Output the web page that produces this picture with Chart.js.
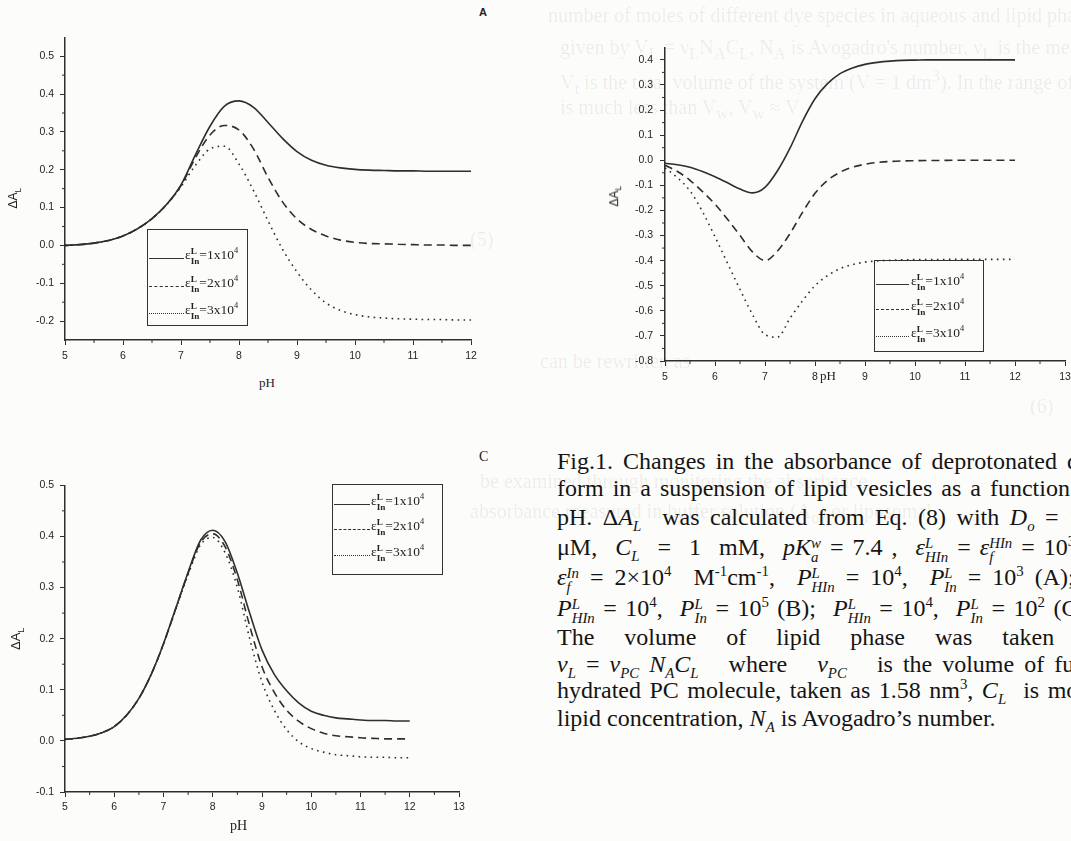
<!DOCTYPE html>
<html><head><meta charset="utf-8">
<script src="https://cdn.jsdelivr.net/npm/chart.js@4.4.1/dist/chart.umd.min.js"></script>
<style>
html,body{margin:0;padding:0;width:1071px;height:841px;overflow:hidden;background:#fcfcfa;position:relative;}
canvas{position:absolute;}
.t{position:absolute;white-space:nowrap;color:#222;}
.ghost{position:absolute;white-space:nowrap;font-family:'Liberation Serif',serif;font-size:20px;color:rgba(0,0,0,0.07);}
.cap{position:absolute;left:557px;white-space:nowrap;font-family:'Liberation Serif',serif;font-size:24px;line-height:24px;color:#141414;}
.ss{display:inline-block;vertical-align:-0.5em;font-size:0.62em;line-height:1.0;text-align:left;}
.ss span{display:block;}
.cap sub,.cap sup{font-size:0.62em;line-height:0;}
.ylab{position:absolute;font-family:'Liberation Sans',Arial,sans-serif;color:#222;transform:rotate(-90deg);transform-origin:center;white-space:nowrap;}
.ylab sub{font-size:0.7em;}
.xlab{position:absolute;font-family:'Liberation Serif',serif;color:#222;white-space:nowrap;}
.leg{position:absolute;border:1.3px solid #333;box-sizing:border-box;}
.smp{position:absolute;left:1px;height:0;}
.ltx{position:absolute;font-family:'Liberation Serif',serif;font-size:13.5px;color:#222;white-space:nowrap;}
.ltx .ss{font-size:0.68em;vertical-align:-0.6em;line-height:1.05;font-weight:bold;}
.ltx sup{font-size:0.62em;}
</style>
</head><body>

<!-- faint show-through text of the scanned page -->
<div class="ghost" style="left:548px;top:4px">number of moles of different dye species in aqueous and lipid phases, V<sub>w</sub>, V<sub>L</sub> are the volumes of</div>
<div class="ghost" style="left:560px;top:36px">given by V<sub>L</sub> = ν<sub>L</sub>N<sub>A</sub>C<sub>L</sub>, N<sub>A</sub> is Avogadro's number, ν<sub>L</sub> is the mean volume of</div>
<div class="ghost" style="left:560px;top:66px">V<sub>t</sub> is the total volume of the system (V = 1 dm<sup>3</sup>). In the range of lipid concentrations commonly</div>
<div class="ghost" style="left:560px;top:96px">is much less than V<sub>w</sub>, V<sub>w</sub> ≈ V</div>
<div class="ghost" style="left:470px;top:228px">(5)</div>
<div class="ghost" style="left:540px;top:350px">can be rewritten as</div>
<div class="ghost" style="left:1030px;top:395px">(6)</div>
<div class="ghost" style="left:480px;top:470px">be examined through monitoring the absorbance</div>
<div class="ghost" style="left:470px;top:500px">absorbance measured in buffer solution (A<sub>o</sub>) or liposomal</div>

<canvas id="cA"></canvas>
<canvas id="cB"></canvas>
<canvas id="cC"></canvas>

<div class="t" style="left:479px;top:6px;font-family:'Liberation Sans',Arial,sans-serif;font-weight:bold;font-size:11px;">A</div>
<div class="t" style="left:479px;top:449px;font-family:'Liberation Serif',serif;font-size:14px;">C</div>

<div class="ylab" style="left:4px;top:190px;font-size:12px;">ΔA<sub>L</sub></div>
<div class="ylab" style="left:605px;top:188px;font-size:12px;">ΔA<sub>L</sub></div>
<div class="ylab" style="left:6px;top:630px;font-size:13px;">ΔA<sub>L</sub></div>

<div class="xlab" style="left:259px;top:375px;font-size:13px;">pH</div>
<div class="xlab" style="left:820px;top:368px;font-size:13px;">pH</div>
<div class="xlab" style="left:230px;top:818px;font-size:14px;">pH</div>

<!-- legends -->
<div class="leg" style="left:147px;top:229px;width:101px;height:97px;">
  <div class="smp" style="top:28px;width:35px;border-top:1.6px solid #333;"></div>
  <div class="ltx" style="left:37px;top:16px;">ε<span class="ss"><span>L</span><span>In</span></span>=1x10<sup>4</sup></div>
  <div class="smp" style="top:56px;width:35px;border-top:1.6px dashed #333;"></div>
  <div class="ltx" style="left:37px;top:44px;">ε<span class="ss"><span>L</span><span>In</span></span>=2x10<sup>4</sup></div>
  <div class="smp" style="top:83px;width:35px;border-top:1.6px dotted #333;"></div>
  <div class="ltx" style="left:37px;top:71px;">ε<span class="ss"><span>L</span><span>In</span></span>=3x10<sup>4</sup></div>
</div>
<div class="leg" style="left:874px;top:260px;width:110px;height:92px;">
  <div class="smp" style="top:23px;width:33px;border-top:1.6px solid #333;"></div>
  <div class="ltx" style="left:36px;top:11px;">ε<span class="ss"><span>L</span><span>In</span></span>=1x10<sup>4</sup></div>
  <div class="smp" style="top:48px;width:33px;border-top:1.6px dashed #333;"></div>
  <div class="ltx" style="left:36px;top:36px;">ε<span class="ss"><span>L</span><span>In</span></span>=2x10<sup>4</sup></div>
  <div class="smp" style="top:75px;width:33px;border-top:1.6px dotted #333;"></div>
  <div class="ltx" style="left:36px;top:63px;">ε<span class="ss"><span>L</span><span>In</span></span>=3x10<sup>4</sup></div>
</div>
<div class="leg" style="left:332px;top:484px;width:111px;height:91px;">
  <div class="smp" style="top:19px;width:36px;border-top:1.6px solid #333;"></div>
  <div class="ltx" style="left:38px;top:7px;">ε<span class="ss"><span>L</span><span>In</span></span>=1x10<sup>4</sup></div>
  <div class="smp" style="top:44px;width:36px;border-top:1.6px dashed #333;"></div>
  <div class="ltx" style="left:38px;top:32px;">ε<span class="ss"><span>L</span><span>In</span></span>=2x10<sup>4</sup></div>
  <div class="smp" style="top:70px;width:36px;border-top:1.6px dotted #333;"></div>
  <div class="ltx" style="left:38px;top:58px;">ε<span class="ss"><span>L</span><span>In</span></span>=3x10<sup>4</sup></div>
</div>

<!-- caption -->
<div class="cap" style="top:449px;word-spacing:4px;">Fig.1. Changes in the absorbance of deprotonated dye</div>
<div class="cap" style="top:476px;word-spacing:3px;">form in a suspension of lipid vesicles as a function of</div>
<div class="cap" style="top:505px;word-spacing:4.5px;">pH. Δ<i>A</i><sub><i>L</i></sub>&nbsp; was calculated from Eq. (8) with <i>D<sub>o</sub></i> = 10</div>
<div class="cap" style="top:535px;word-spacing:3px;">μM,&nbsp; <i>C<sub>L</sub></i> &nbsp;= &nbsp;1 &nbsp;mM,&nbsp; <i>pK</i><span class="ss"><span><i>w</i></span><span><i>a</i></span></span> = 7.4 ,&nbsp; <i>ε</i><span class="ss"><span><i>L</i></span><span><i>HIn</i></span></span> = <i>ε</i><span class="ss"><span><i>HIn</i></span><span><i>f</i></span></span> = 10<sup>3</sup></div>
<div class="cap" style="top:565px;word-spacing:5px;"><i>ε</i><span class="ss"><span><i>In</i></span><span><i>f</i></span></span> = 2×10<sup>4</sup>&nbsp; M<sup>-1</sup>cm<sup>-1</sup>,&nbsp; <i>P</i><span class="ss"><span><i>L</i></span><span><i>HIn</i></span></span> = 10<sup>4</sup>,&nbsp; <i>P</i><span class="ss"><span><i>L</i></span><span><i>In</i></span></span> = 10<sup>3</sup> (A);</div>
<div class="cap" style="top:596px;word-spacing:2.5px;"><i>P</i><span class="ss"><span><i>L</i></span><span><i>HIn</i></span></span> = 10<sup>4</sup>,&nbsp; <i>P</i><span class="ss"><span><i>L</i></span><span><i>In</i></span></span> = 10<sup>5</sup> (B);&nbsp; <i>P</i><span class="ss"><span><i>L</i></span><span><i>HIn</i></span></span> = 10<sup>4</sup>,&nbsp; <i>P</i><span class="ss"><span><i>L</i></span><span><i>In</i></span></span> = 10<sup>2</sup> (C).</div>
<div class="cap" style="top:625px;word-spacing:24px;">The volume of lipid phase was taken as</div>
<div class="cap" style="top:652px;word-spacing:4px;"><i>ν<sub>L</sub></i>&nbsp;=&nbsp;<i>ν<sub>PC</sub>&nbsp;N<sub>A</sub>C<sub>L</sub></i>&nbsp;&nbsp; where&nbsp;&nbsp; <i>ν<sub>PC</sub></i>&nbsp;&nbsp; is the volume of fully</div>
<div class="cap" style="top:678px;word-spacing:2.5px;">hydrated PC molecule, taken as 1.58 nm<sup>3</sup>, <i>C<sub>L</sub></i>&nbsp; is molar</div>
<div class="cap" style="top:706px;">lipid concentration, <i>N<sub>A</sub></i> is Avogadro’s number.</div>

<script>
// ---------- data ----------
const pH = [5,5.25,5.5,5.75,6,6.25,6.5,6.75,7,7.25,7.5,7.75,8,8.25,8.5,8.75,9,9.25,9.5,9.75,10,10.25,10.5,10.75,11,11.25,11.5,11.75,12];
const seriesLabels = ['ε(L,In)=1x10^4','ε(L,In)=2x10^4','ε(L,In)=3x10^4'];

// Panel A
const A_eps1 = [0.000,0.002,0.006,0.013,0.025,0.044,0.071,0.108,0.160,0.240,0.315,0.368,0.382,0.365,0.325,0.283,0.248,0.225,0.212,0.205,0.201,0.199,0.198,0.197,0.197,0.196,0.196,0.196,0.196];
const A_eps2 = [0.000,0.002,0.006,0.013,0.025,0.044,0.071,0.108,0.158,0.232,0.292,0.317,0.305,0.255,0.180,0.115,0.070,0.042,0.025,0.014,0.008,0.005,0.004,0.003,0.002,0.001,0.001,0.000,0.000];
const A_eps3 = [0.000,0.002,0.006,0.013,0.025,0.044,0.071,0.107,0.155,0.212,0.255,0.262,0.215,0.145,0.065,-0.010,-0.070,-0.118,-0.152,-0.172,-0.183,-0.189,-0.192,-0.194,-0.195,-0.196,-0.196,-0.197,-0.197];
const A_xTicks = [5,6,7,8,9,10,11,12];
const A_yTicks = [-0.2,-0.1,0.0,0.1,0.2,0.3,0.4,0.5];

// Panel B
const B_eps1 = [-0.012,-0.018,-0.028,-0.045,-0.066,-0.090,-0.115,-0.130,-0.108,-0.042,0.048,0.155,0.245,0.305,0.345,0.368,0.382,0.390,0.395,0.398,0.399,0.400,0.400,0.400,0.400,0.400,0.400,0.400,0.400];
const B_eps2 = [-0.020,-0.045,-0.080,-0.125,-0.175,-0.235,-0.300,-0.365,-0.400,-0.362,-0.292,-0.208,-0.132,-0.080,-0.048,-0.028,-0.016,-0.009,-0.005,-0.003,-0.002,-0.001,-0.001,0.000,0.000,0.000,0.000,0.000,0.000];
const B_eps3 = [-0.030,-0.070,-0.122,-0.205,-0.305,-0.410,-0.515,-0.615,-0.695,-0.705,-0.630,-0.560,-0.500,-0.460,-0.432,-0.416,-0.406,-0.401,-0.399,-0.397,-0.396,-0.396,-0.396,-0.395,-0.395,-0.395,-0.395,-0.395,-0.395];
const B_xTicks = [5,6,7,8,9,10,11,12,13];
const B_yTicks = [-0.8,-0.7,-0.6,-0.5,-0.4,-0.3,-0.2,-0.1,0.0,0.1,0.2,0.3,0.4];

// Panel C
const C_eps1 = [0.003,0.005,0.009,0.016,0.028,0.050,0.083,0.130,0.190,0.260,0.330,0.392,0.412,0.390,0.328,0.250,0.178,0.130,0.098,0.074,0.058,0.050,0.045,0.043,0.041,0.040,0.040,0.039,0.039];
const C_eps2 = [0.003,0.005,0.009,0.016,0.028,0.050,0.083,0.130,0.190,0.259,0.328,0.388,0.405,0.380,0.315,0.225,0.145,0.095,0.060,0.038,0.024,0.015,0.010,0.008,0.006,0.005,0.004,0.004,0.004];
const C_eps3 = [0.003,0.005,0.009,0.016,0.028,0.050,0.083,0.130,0.189,0.257,0.325,0.383,0.398,0.368,0.300,0.200,0.115,0.060,0.022,-0.002,-0.015,-0.022,-0.027,-0.029,-0.031,-0.032,-0.032,-0.033,-0.033];
const C_xTicks = [5,6,7,8,9,10,11,12,13];
const C_yTicks = [-0.1,0.0,0.1,0.2,0.3,0.4,0.5];

// minor tick positions
const minorX = [5.5,6.5,7.5,8.5,9.5,10.5,11.5,12.5];
const minorY = [-0.75,-0.65,-0.55,-0.45,-0.35,-0.25,-0.15,-0.05,0.05,0.15,0.25,0.35,0.45];

// ---------- drawing ----------
const INK = '#2e2e2e';
const minorPlugin = {
  id: 'minorTicks',
  afterDraw(chart) {
    const ctx = chart.ctx, xs = chart.scales.x, ys = chart.scales.y;
    ctx.save();
    ctx.strokeStyle = INK; ctx.lineWidth = 1;
    ctx.beginPath();
    minorX.forEach(v => { if (v > xs.min && v < xs.max) { const p = xs.getPixelForValue(v); ctx.moveTo(p, ys.bottom); ctx.lineTo(p, ys.bottom + 3); } });
    minorY.forEach(v => { if (v > ys.min && v < ys.max) { const p = ys.getPixelForValue(v); ctx.moveTo(xs.left, p); ctx.lineTo(xs.left - 3, p); } });
    ctx.stroke();
    ctx.restore();
  }
};

const dashes = [[], [8, 5], [1.6, 4.4]];

function build(id, o) {
  const cv = document.getElementById(id);
  const W = o.yw + (o.right - o.left) + o.pr;
  const H = o.pt + (o.bottom - o.top) + o.xh;
  cv.width = W; cv.height = H;
  cv.style.width = W + 'px'; cv.style.height = H + 'px';
  cv.style.left = (o.left - o.yw) + 'px';
  cv.style.top = (o.top - o.pt) + 'px';
  const font = { family: "'Liberation Sans', Arial, sans-serif", size: o.fs };
  new Chart(cv.getContext('2d'), {
    type: 'line',
    data: {
      datasets: o.series.map((s, k) => ({
        label: seriesLabels[k],
        data: pH.map((x, i) => ({ x: x, y: s[i] })),
        borderColor: INK,
        borderWidth: 1.6,
        borderDash: dashes[k],
        pointRadius: 0,
        fill: false,
        cubicInterpolationMode: 'monotone'
      }))
    },
    options: {
      responsive: false, animation: false, devicePixelRatio: 1,
      layout: { padding: { top: o.pt, right: o.pr, left: 0, bottom: 0 } },
      plugins: { legend: { display: false }, tooltip: { enabled: false } },
      scales: {
        x: {
          type: 'linear', min: o.xmin, max: o.xmax,
          afterBuildTicks: s => { s.ticks = o.xt.map(v => ({ value: v })); },
          afterFit: s => { s.height = o.xh; },
          ticks: { callback: v => String(v), font: font, color: '#1e1e1e', padding: o.xpad, maxRotation: 0, autoSkip: false },
          grid: { display: true, drawOnChartArea: false, drawTicks: true, tickLength: 5, color: INK, lineWidth: 1 },
          border: { display: true, color: INK, width: 1.5 }
        },
        y: {
          type: 'linear', min: o.ymin, max: o.ymax,
          afterBuildTicks: s => { s.ticks = o.yt.map(v => ({ value: v })); },
          afterFit: s => { s.width = o.yw; },
          ticks: { callback: v => v.toFixed(1), font: font, color: '#1e1e1e', padding: o.ypad, autoSkip: false },
          grid: { display: true, drawOnChartArea: false, drawTicks: true, tickLength: 5, color: INK, lineWidth: 1 },
          border: { display: true, color: INK, width: 1.5 }
        }
      }
    },
    plugins: [minorPlugin]
  });
}

build('cA', { left: 65, right: 471, top: 35, bottom: 340, yw: 50, xh: 30, pt: 10, pr: 15, fs: 10.5, xpad: 5, ypad: 6,
  xmin: 5, xmax: 12, ymin: -0.25, ymax: 0.55, xt: A_xTicks, yt: A_yTicks, series: [A_eps1, A_eps2, A_eps3] });
build('cB', { left: 665, right: 1065, top: 44, bottom: 361, yw: 50, xh: 30, pt: 10, pr: 15, fs: 10.5, xpad: 5, ypad: 7,
  xmin: 5, xmax: 13, ymin: -0.8, ymax: 0.45, xt: B_xTicks, yt: B_yTicks, series: [B_eps1, B_eps2, B_eps3] });
build('cC', { left: 65, right: 459, top: 483, bottom: 792, yw: 50, xh: 30, pt: 10, pr: 15, fs: 10.5, xpad: 4, ypad: 6,
  xmin: 5, xmax: 13, ymin: -0.1, ymax: 0.5, xt: C_xTicks, yt: C_yTicks, series: [C_eps1, C_eps2, C_eps3] });
</script>
</body></html>
